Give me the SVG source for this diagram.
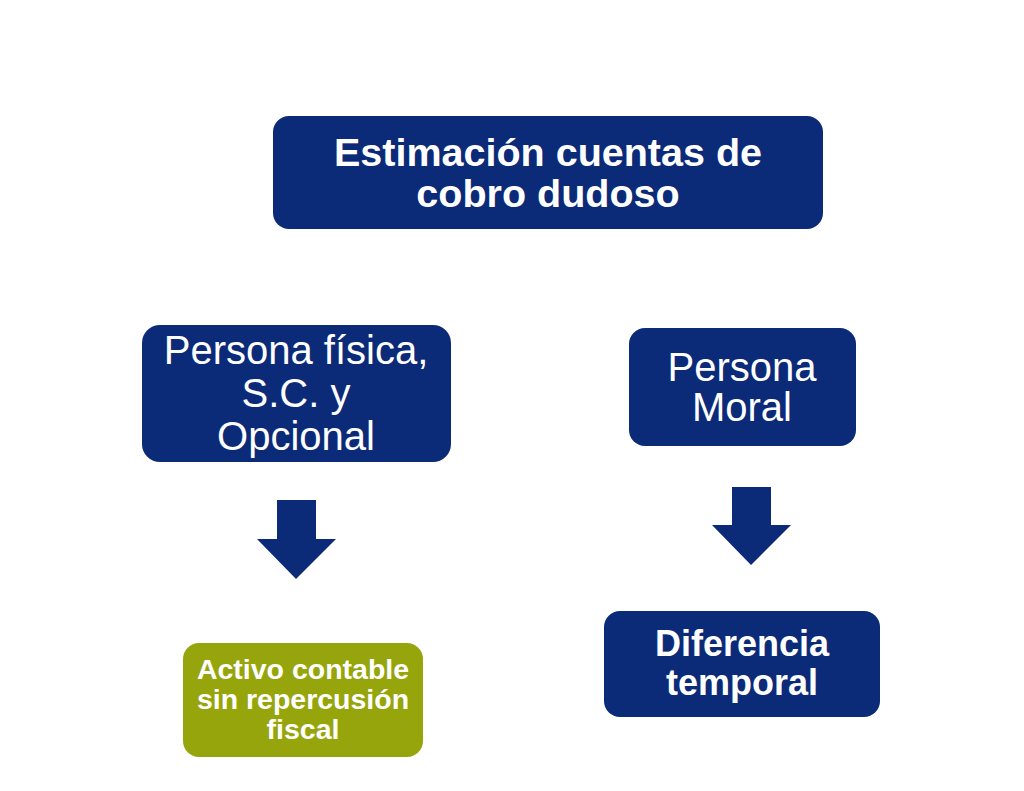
<svg xmlns="http://www.w3.org/2000/svg" width="1024" height="791" viewBox="0 0 1024 791">
<style>
.navy{fill:#0B2A78}
.green{fill:#97A50C}
text{font-family:"Liberation Sans",Arial,sans-serif;fill:#fff;text-anchor:middle}
.b{font-weight:bold}
</style>
<rect width="1024" height="791" fill="#fff"/>
<g id="n-top">
<rect class="navy" x="273" y="116" width="550" height="113" rx="16"/>
<text class="b" font-size="39.5" x="548" y="166">Estimación cuentas de</text>
<text class="b" font-size="39.5" x="548" y="207">cobro dudoso</text>
</g>
<g id="n-fisica">
<rect class="navy" x="142" y="325" width="309" height="137" rx="18"/>
<text font-size="40" x="296" y="364">Persona física,</text>
<text font-size="40" x="296" y="407">S.C. y</text>
<text font-size="40" x="296" y="450">Opcional</text>
</g>
<g id="n-moral">
<rect class="navy" x="629" y="328" width="227" height="118" rx="16"/>
<text font-size="40" x="742" y="381">Persona</text>
<text font-size="40" x="742" y="421">Moral</text>
</g>
<g id="n-activo">
<rect class="green" x="183" y="643" width="240" height="114" rx="16"/>
<text class="b" font-size="28.5" x="303" y="679">Activo contable</text>
<text class="b" font-size="28.5" x="303" y="709">sin repercusión</text>
<text class="b" font-size="28.5" x="303" y="739">fiscal</text>
</g>
<g id="n-diferencia">
<rect class="navy" x="604" y="611" width="276" height="106" rx="16"/>
<text class="b" font-size="36" x="742" y="656">Diferencia</text>
<text class="b" font-size="36" x="742" y="695">temporal</text>
</g>
<g id="connectors">
<polygon class="navy" points="277,500 316,500 316,539 336,539 296,579 257,539 277,539"/>
<polygon class="navy" points="732,487 771,487 771,525 791,525 751,565 712,525 732,525"/>
</g>
</svg>
